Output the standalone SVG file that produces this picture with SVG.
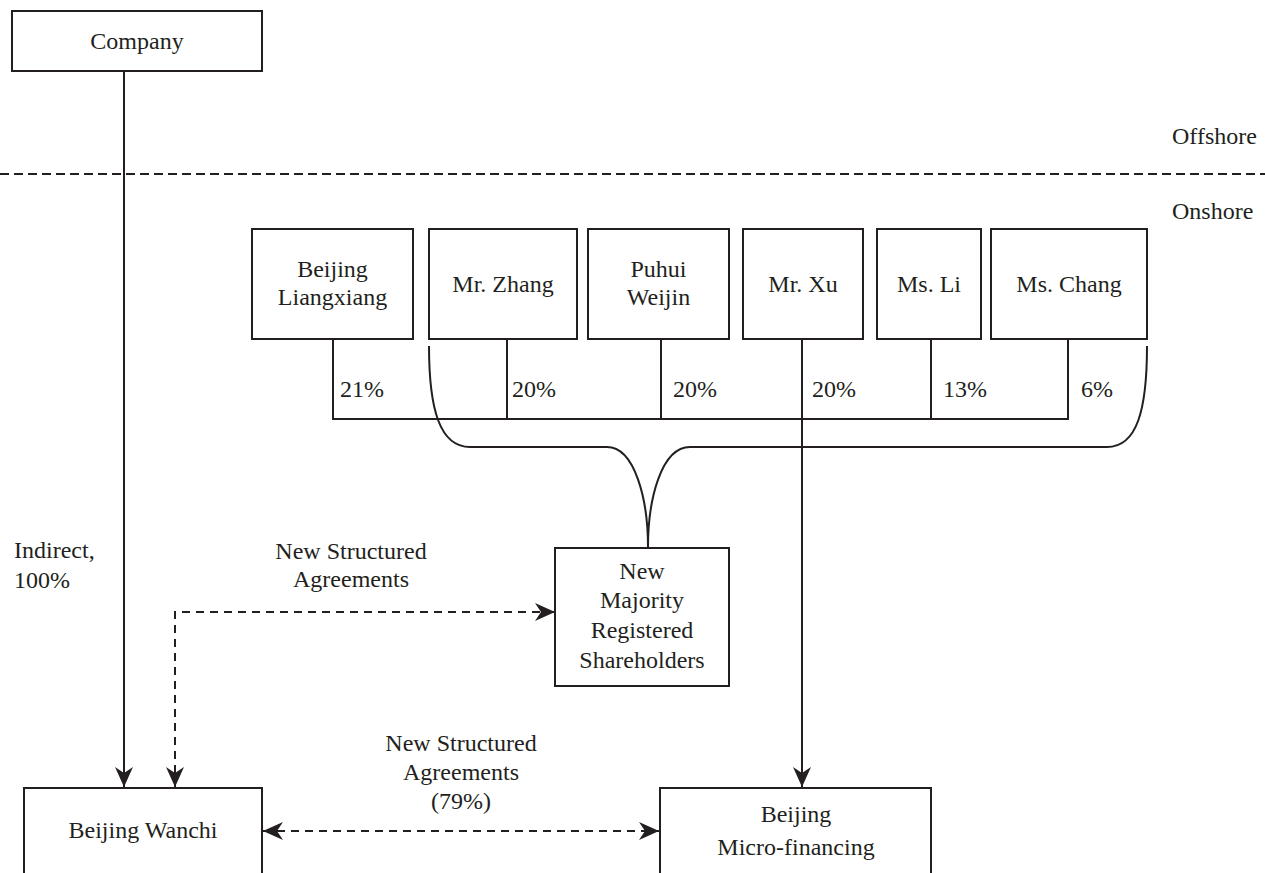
<svg xmlns="http://www.w3.org/2000/svg" width="1265" height="873" viewBox="0 0 1265 873">
<defs>
<style>
.box{fill:#fff;stroke:#231f20;stroke-width:2}
.t{font-family:"Liberation Serif","Times New Roman",serif;font-size:24px;fill:#231f20}
.c{text-anchor:middle}
.ln{fill:none;stroke:#231f20;stroke-width:2}
.dsh{fill:none;stroke:#231f20;stroke-width:2;stroke-dasharray:8 6}
.sep{fill:none;stroke:#231f20;stroke-width:2;stroke-dasharray:9 5}
</style>
<marker id="ah" markerUnits="userSpaceOnUse" markerWidth="24" markerHeight="24" viewBox="-22 -11 24 22" refX="0" refY="0" orient="auto-start-reverse">
<path d="M0,0 L-20,-9 L-14,0 L-20,9 Z" fill="#231f20"/>
</marker>
</defs>
<rect width="1265" height="873" fill="#fff"/>

<g id="connectors">
<line class="sep" x1="0" y1="174" x2="1265" y2="174"/>
<line class="ln" x1="124" y1="71" x2="124" y2="787" marker-end="url(#ah)"/>
<path class="ln" d="M333,339 V419 H1068 V339 M507,339 V419 M661,339 V419 M931,339 V419"/>
<line class="ln" x1="802" y1="339" x2="802" y2="787" marker-end="url(#ah)"/>
<path class="ln" d="M429,346 C429,410 440,447 470,447 H607 C635,447 648,500 648,547 C648,500 661,447 690,447 H1107 C1137,447 1147,410 1147,346"/>
<path class="dsh" d="M175,787 V612 H555" marker-start="url(#ah)" marker-end="url(#ah)"/>
<line class="dsh" x1="263" y1="831" x2="659" y2="831" marker-start="url(#ah)" marker-end="url(#ah)"/>
</g>

<g id="labels">
<text class="t" x="1172" y="144">Offshore</text>
<text class="t" x="1172" y="219">Onshore</text>
<text class="t" x="340" y="397">21%</text>
<text class="t" x="512" y="397">20%</text>
<text class="t" x="673" y="397">20%</text>
<text class="t" x="812" y="397">20%</text>
<text class="t" x="943" y="397">13%</text>
<text class="t" x="1081" y="397">6%</text>
<text class="t" x="14" y="558">Indirect,</text>
<text class="t" x="14" y="588">100%</text>
<text class="t c" x="351" y="559">New Structured</text>
<text class="t c" x="351" y="587">Agreements</text>
<text class="t c" x="461" y="751">New Structured</text>
<text class="t c" x="461" y="780">Agreements</text>
<text class="t c" x="461" y="809">(79%)</text>
</g>

<g id="company"><rect class="box" x="12" y="11" width="250" height="60"/><text class="t c" x="137" y="49">Company</text></g>
<g id="liangxiang"><rect class="box" x="252" y="229" width="161" height="110"/><text class="t c" x="332.5" y="277">Beijing</text><text class="t c" x="332.5" y="305">Liangxiang</text></g>
<g id="zhang"><rect class="box" x="429" y="229" width="148" height="110"/><text class="t c" x="503" y="292">Mr. Zhang</text></g>
<g id="puhui"><rect class="box" x="588" y="229" width="141" height="110"/><text class="t c" x="658.5" y="277">Puhui</text><text class="t c" x="658.5" y="305">Weijin</text></g>
<g id="xu"><rect class="box" x="743" y="229" width="120" height="110"/><text class="t c" x="803" y="292">Mr. Xu</text></g>
<g id="li"><rect class="box" x="877" y="229" width="104" height="110"/><text class="t c" x="929" y="292">Ms. Li</text></g>
<g id="chang"><rect class="box" x="991" y="229" width="156" height="110"/><text class="t c" x="1069" y="292">Ms. Chang</text></g>
<g id="majority"><rect class="box" x="555" y="548" width="174" height="138"/><text class="t c" x="642" y="579">New</text><text class="t c" x="642" y="608">Majority</text><text class="t c" x="642" y="638">Registered</text><text class="t c" x="642" y="668">Shareholders</text></g>
<g id="wanchi"><rect class="box" x="24" y="788" width="238" height="100"/><text class="t c" x="143" y="838">Beijing Wanchi</text></g>
<g id="microfinancing"><rect class="box" x="660" y="788" width="271" height="100"/><text class="t c" x="796" y="822">Beijing</text><text class="t c" x="796" y="855">Micro-financing</text></g>
</svg>
